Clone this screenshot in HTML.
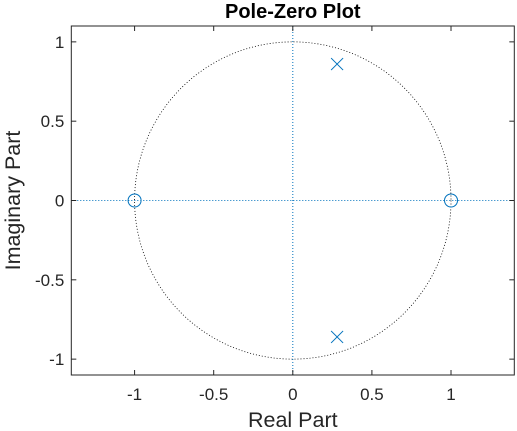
<!DOCTYPE html>
<html><head><meta charset="utf-8"><style>
body{margin:0;background:#fff}
svg{display:block;font-family:"Liberation Sans",sans-serif}
</style></head><body>
<svg id="chart" width="517" height="431" xmlns="http://www.w3.org/2000/svg">
<text x="292.8" y="18" text-anchor="middle" font-size="20" font-weight="bold" fill="#000">Pole-Zero Plot</text>
<text x="292.8" y="427" text-anchor="middle" font-size="21.5" fill="#262626">Real Part</text>
<text transform="translate(20,200.5) rotate(-90)" text-anchor="middle" font-size="21.5" fill="#262626">Imaginary Part</text>
<g id="plot"></g>
</svg>
<script>
const xTicks=[-1,-0.5,0,0.5,1];
const xTickLabels=["-1","-0.5","0","0.5","1"];
const yTicks=[-1,-0.5,0,0.5,1];
const yTickLabels=["-1","-0.5","0","0.5","1"];
const zerosRe=[-1,1];
const zerosIm=[0,0];
const polesRe=[0.28,0.28];
const polesIm=[0.86,-0.86];
const xMin=-1.4,xMax=1.4,yMin=-1.1,yMax=1.1;
const L=71.3,R=514.3,T=26,B=375;
const sx=v=>L+(v-xMin)/(xMax-xMin)*(R-L);
const sy=v=>B-(v-yMin)/(yMax-yMin)*(B-T);
const NS="http://www.w3.org/2000/svg";
const g=document.getElementById('plot');
function mk(tag,attrs){const e=document.createElementNS(NS,tag);for(const k in attrs)e.setAttribute(k,attrs[k]);g.appendChild(e);return e;}
const blue="#0072BD";
let el=mk('ellipse',{cx:sx(0),cy:sy(0),rx:sx(1)-sx(0),ry:sy(0)-sy(1),fill:'none',stroke:'#000','stroke-width':0.8,'stroke-dasharray':'1 2'});


let h=mk('line',{x1:L,x2:R,y1:sy(0),y2:sy(0),stroke:blue,'stroke-width':1,'stroke-dasharray':'1 2'});


let v=mk('line',{x1:sx(0),x2:sx(0),y1:T,y2:B,stroke:blue,'stroke-width':1,'stroke-dasharray':'1 2'});


let box=mk('rect',{x:L,y:T,width:R-L,height:B-T,fill:'none',stroke:'#262626','stroke-width':1});


xTicks.forEach((t,i)=>{
  const x=sx(t);
  mk('line',{x1:x,x2:x,y1:B,y2:B-5,stroke:'#262626'});
  mk('line',{x1:x,x2:x,y1:T,y2:T+5,stroke:'#262626'});
  const tx=mk('text',{x:x,y:B+25,'text-anchor':'middle','font-size':17,fill:'#262626'});
  tx.textContent=xTickLabels[i];
  
  
});
yTicks.forEach((t,i)=>{
  const y=sy(t);
  mk('line',{x1:L,x2:L+5,y1:y,y2:y,stroke:'#262626'});
  mk('line',{x1:R,x2:R-5,y1:y,y2:y,stroke:'#262626'});
  const tx=mk('text',{x:L-7,y:y+6,'text-anchor':'end','font-size':17,fill:'#262626'});
  tx.textContent=yTickLabels[i];
  
  
});
zerosRe.forEach((re,i)=>{
  const z=mk('circle',{cx:sx(re),cy:sy(zerosIm[i]),r:6.5,fill:'none',stroke:blue,'stroke-width':1});
  
  
});
polesRe.forEach((re,i)=>{
  const x=sx(re),y=sy(polesIm[i]),s=6;
  const p=mk('path',{d:`M${x-s},${y-s}L${x+s},${y+s}M${x-s},${y+s}L${x+s},${y-s}`,stroke:blue,'stroke-width':1,fill:'none'});
  
  
});
</script>
</body></html>
